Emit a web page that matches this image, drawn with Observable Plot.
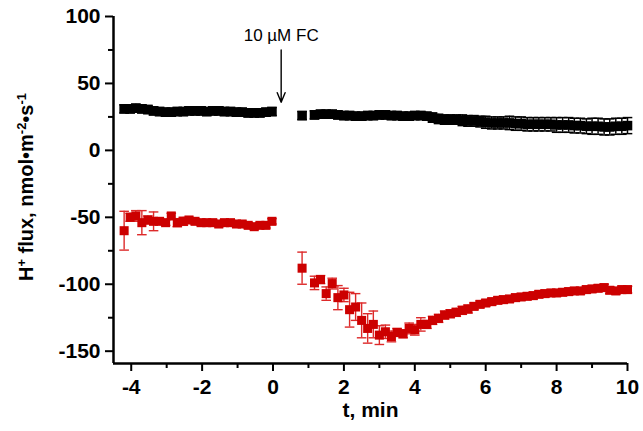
<!DOCTYPE html>
<html>
<head>
<meta charset="utf-8">
<script src="https://cdn.jsdelivr.net/npm/d3@7"></script>
<script src="https://cdn.jsdelivr.net/npm/@observablehq/plot@0.6"></script>
<style>
  html, body { margin: 0; padding: 0; background: #fff; }
</style>
</head>
<body>
<script>
// time (min) before FC addition
const tPre = [-4.2, -4.03, -3.87, -3.7, -3.53, -3.37, -3.2, -3.03, -2.87, -2.7, -2.53, -2.37, -2.2, -2.03, -1.87, -1.7, -1.53, -1.37, -1.2, -1.03, -0.87, -0.7, -0.53, -0.37, -0.2, -0.03];
// time (min) after FC addition
const tPost = [0.82, 1.17, 1.34, 1.5, 1.67, 1.83, 2.0, 2.16, 2.33, 2.5, 2.67, 2.83, 3.0, 3.17, 3.34, 3.5, 3.67, 3.84, 4.0, 4.17, 4.34, 4.5, 4.67, 4.84,
  5.0, 5.17, 5.34, 5.5, 5.67, 5.84, 6.0, 6.17, 6.34, 6.5, 6.67, 6.84, 7.0, 7.17, 7.34, 7.5, 7.67, 7.84, 8.0, 8.17, 8.34, 8.5, 8.67, 8.84, 9.0, 9.17, 9.34, 9.5, 9.67, 9.84, 10.0];

// black series (control)
const blackPre = [31, 31, 31.5, 31, 30.5, 29.5, 29, 28.5, 28.5, 29, 29, 29.5, 29.5, 29.5, 29, 29.5, 29.5, 29, 29, 28.5, 28.5, 28, 28, 28, 28.5, 29];
const blackPreErr = [3, 3, 3, 3, 3, 3, 3, 3, 3, 3, 3, 3, 3, 3, 3, 3, 3, 3, 3, 3, 3, 3, 3, 3, 3, 3];
const blackPost = [26, 26.5, 27, 27, 27, 26.5, 26, 26, 25.5, 25.5, 26, 26, 26.5, 26.5, 26, 26, 25.5, 25.5, 26, 26, 25.5, 24.5, 23.5, 23,
  23, 23, 22.5, 22, 22, 21.5, 21, 20.5, 20.5, 20.5, 20.5, 20, 20, 19.5, 19.5, 19.5, 19.5, 19.5, 19, 19, 19, 18.5, 18.5, 18, 18, 18, 17.5, 17.5, 18, 18, 18.5];
const blackPostErr = [3, 3, 3, 3, 3, 3, 3, 3, 3, 3, 3, 3, 3, 3, 3, 3, 3, 3, 3, 3, 3, 3.5, 3.5, 3.5,
  3.5, 3.5, 4, 4, 4, 4, 4.5, 4.5, 4.5, 4.5, 5, 5, 5, 5, 5, 5, 5, 5, 5.5, 5.5, 5.5, 5.5, 5.5, 5.5, 6, 6, 6, 6, 6, 6, 6];

// red series
const redPre = [-60, -50, -49, -54, -52, -53, -53, -54, -49, -54, -53, -52, -53, -54, -54, -54, -55, -54, -54, -55, -55, -56, -57, -56, -56, -53];
const redPreErr = [14.5, 3, 4, 9, 3, 7, 2, 2, 2, 3, 3, 2, 2, 2, 2, 2, 2, 2, 2, 2, 2, 2, 2, 2, 2, 2];
const redPost = [-88, -99, -96.5, -107, -99.5, -110, -108, -119, -117, -127, -133, -130, -138, -135.5, -139, -136, -137, -133, -134, -130, -130, -127, -125.5, -123,
  -122, -121, -119.5, -118.5, -116.5, -115, -114, -113, -112, -111.5, -111, -110, -109.5, -109, -108.5, -107.5, -107, -106.5, -106.5, -106, -105.5, -105, -105, -104, -103.5, -103, -102.5, -104.5, -105, -104, -104];
const redPostErr = [12, 5, 3, 5, 4, 9, 5, 13, 10, 13, 11, 10, 7, 5, 4, 3, 3, 4, 4, 5, 3, 3, 3, 3,
  3, 3, 3, 3, 2.5, 2.5, 2.5, 2.5, 2.5, 2.5, 2.5, 2.5, 2.5, 2.5, 2.5, 2.5, 2.5, 2.5, 2.5, 2.5, 2.5, 2.5, 2.5, 2.5, 2.5, 2.5, 2.5, 2.5, 2.5, 2.5, 2.5];

// axes
const xTicks = [-4, -2, 0, 2, 4, 6, 8, 10];
const xMinor = [-3, -1, 1, 3, 5, 7, 9];
const yTicks = [-150, -100, -50, 0, 50, 100];
const yMinor = [-125, -75, -25, 25, 75];
const xDomain = [-4.5, 10];
const yDomain = [-159.2, 100];
const xLabel = "t, min";
const yLabelParts = [["H", false], ["+", true], [" flux, nmol•m", false], ["-2", true], ["•s", false], ["-1", true]];
const yLabel = yLabelParts.map(p => p[0]).join("");

// annotation
const annotText = ["10 µM FC"];
const annotX = [0.23];
const annotTextY = [86];
const annotArrowY = [75, 36];

const toRows = (t, v, e) => t.map((ti, i) => ({t: ti, v: v[i], e: e[i]}));
const black = toRows(tPre, blackPre, blackPreErr).concat(toRows(tPost, blackPost, blackPostErr));
const red = toRows(tPre, redPre, redPreErr).concat(toRows(tPost, redPost, redPostErr));

const cap = {
  draw(context, size) {
    const w = Math.sqrt(size / Math.PI);
    context.moveTo(-w, 0);
    context.lineTo(w, 0);
  }
};

const RED = "#cc0000";
const RED_ERR = "#dd2a2a";

function errorMarks(data, color, sw) {
  return [
    Plot.ruleX(data, {x: "t", y1: d => d.v - d.e, y2: d => d.v + d.e, stroke: color, strokeWidth: sw}),
    Plot.dot(data, {x: "t", y: d => d.v + d.e, symbol: cap, r: 4.8, stroke: color, strokeWidth: sw, fill: "none"}),
    Plot.dot(data, {x: "t", y: d => d.v - d.e, symbol: cap, r: 4.8, stroke: color, strokeWidth: sw, fill: "none"})
  ];
}

const chart = Plot.plot({
  width: 643,
  height: 431,
  marginLeft: 113,
  marginRight: 16,
  marginTop: 16,
  marginBottom: 68,
  style: {fontFamily: "Arial, 'Liberation Sans', sans-serif", background: "#fff", color: "#000"},
  x: {domain: xDomain},
  y: {domain: yDomain},
  marks: [
    ...errorMarks(black, "#000", 1.5),
    Plot.dot(black, {x: "t", y: "v", symbol: "square", r: 5.4, fill: "#000"}),
    ...errorMarks(red, RED_ERR, 1.4),
    Plot.dot(red, {x: "t", y: "v", symbol: "square", r: 5.1, fill: RED}),
    Plot.axisX({ticks: xTicks, tickSize: 8, tickPadding: 8, tickFormat: d => String(d), fontSize: 21, fontWeight: "bold", strokeWidth: 2, label: null}),
    Plot.axisX({ticks: xMinor, tickSize: 5, tickFormat: () => "", strokeWidth: 2, label: null}),
    Plot.axisY({ticks: yTicks, tickSize: 8, tickPadding: 5, tickFormat: d => String(d), fontSize: 21, fontWeight: "bold", strokeWidth: 2, label: null}),
    Plot.axisY({ticks: yMinor, tickSize: 5, tickFormat: () => "", strokeWidth: 2, label: null}),
    Plot.ruleX([xDomain[0]], {strokeWidth: 2.5}),
    Plot.ruleY([yDomain[0]], {strokeWidth: 2.5}),
    Plot.text([xLabel], {frameAnchor: "bottom", dy: 53, fontSize: 21, fontWeight: "bold"}),
    Plot.text([yLabel], {frameAnchor: "left", textAnchor: "middle", dx: -87, dy: -3, rotate: -90, fontSize: 20, fontWeight: "bold"}),
    Plot.arrow(annotX, {x1: d => d, x2: d => d, y1: annotArrowY[0], y2: annotArrowY[1], headLength: 11, headAngle: 45, strokeWidth: 1.4, stroke: "#000"}),
    Plot.text(annotText, {x: annotX[0], y: annotTextY[0], fontSize: 17, fill: "#000"})
  ]
});

// render the superscripts of the y-axis label as real tspans
d3.select(chart).selectAll("text")
  .filter(function () { return this.textContent === yLabel; })
  .each(function () {
    const t = d3.select(this);
    t.text(null);
    yLabelParts.forEach(([s, sup]) => {
      const ts = t.append("tspan").text(s);
      if (sup) ts.attr("baseline-shift", "super").attr("font-size", "13px");
    });
  });

document.body.appendChild(chart);
</script>
</body>
</html>
